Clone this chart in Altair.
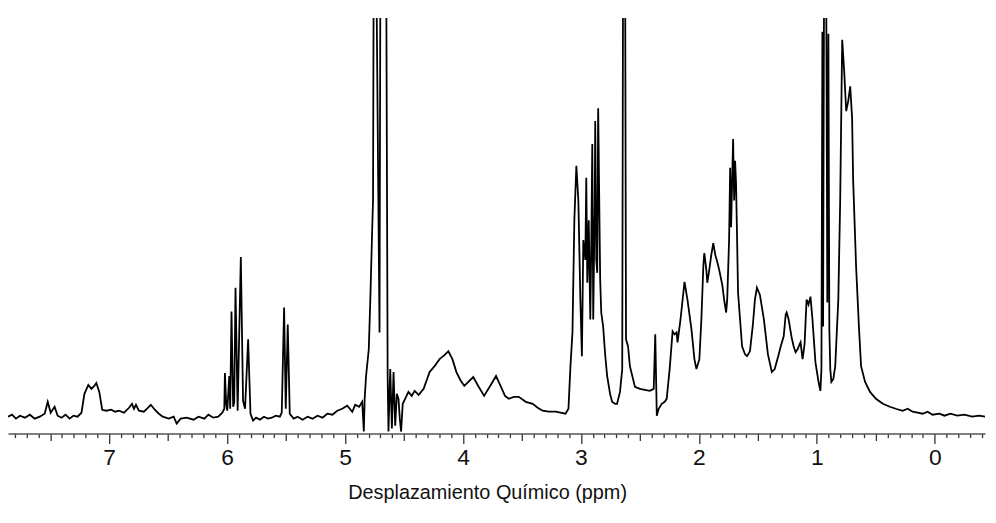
import altair as alt
import pandas as pd

# Chemical shift (ppm) and signal intensity (arbitrary units)
ppm = [
    7.858, 7.824, 7.791, 7.757, 7.715, 7.673, 7.631, 7.589, 7.547, 7.521, 7.496, 7.463,
    7.437, 7.404, 7.370, 7.336, 7.303, 7.269, 7.235, 7.210, 7.177, 7.151, 7.126, 7.109,
    7.084, 7.059, 7.025, 6.983, 6.950, 6.916, 6.874, 6.832, 6.807, 6.790, 6.773, 6.748,
    6.706, 6.672, 6.647, 6.613, 6.579, 6.546, 6.495, 6.453, 6.428, 6.394, 6.344, 6.285,
    6.243, 6.193, 6.159, 6.117, 6.075, 6.041, 6.024, 6.019, 6.008, 5.999, 5.982, 5.974,
    5.963, 5.949, 5.940, 5.929, 5.911, 5.884, 5.865, 5.848, 5.822, 5.802, 5.780, 5.755,
    5.722, 5.688, 5.654, 5.621, 5.587, 5.553, 5.537, 5.517, 5.503, 5.486, 5.469, 5.436,
    5.402, 5.360, 5.318, 5.276, 5.234, 5.192, 5.150, 5.108, 5.066, 5.024, 4.982, 4.939,
    4.914, 4.881, 4.855, 4.841, 4.834, 4.822, 4.799, 4.786, 4.771, 4.763, 4.752, 4.708,
    4.696, 4.658, 4.639, 4.632, 4.617, 4.603, 4.589, 4.575, 4.561, 4.547, 4.536, 4.525,
    4.511, 4.491, 4.463, 4.435, 4.410, 4.376, 4.334, 4.283, 4.241, 4.199, 4.157, 4.124,
    4.090, 4.056, 4.023, 3.989, 3.955, 3.913, 3.871, 3.821, 3.770, 3.720, 3.678, 3.644,
    3.611, 3.569, 3.527, 3.468, 3.409, 3.367, 3.325, 3.274, 3.215, 3.173, 3.131, 3.106,
    3.089, 3.072, 3.056, 3.039, 3.022, 3.005, 2.992, 2.980, 2.963, 2.955, 2.946, 2.934,
    2.921, 2.913, 2.904, 2.896, 2.883, 2.879, 2.870, 2.862, 2.854, 2.837, 2.828, 2.812,
    2.795, 2.778, 2.753, 2.736, 2.711, 2.694, 2.669, 2.650, 2.639, 2.630, 2.618, 2.601,
    2.585, 2.542, 2.500, 2.458, 2.416, 2.383, 2.370, 2.357, 2.341, 2.315, 2.290, 2.273,
    2.248, 2.223, 2.206, 2.189, 2.181, 2.156, 2.122, 2.097, 2.063, 2.038, 2.021, 1.996,
    1.979, 1.962, 1.954, 1.937, 1.929, 1.912, 1.895, 1.878, 1.861, 1.844, 1.828, 1.802,
    1.786, 1.769, 1.760, 1.752, 1.744, 1.735, 1.727, 1.718, 1.710, 1.701, 1.693, 1.685,
    1.676, 1.668, 1.651, 1.634, 1.609, 1.592, 1.567, 1.542, 1.525, 1.508, 1.483, 1.449,
    1.415, 1.382, 1.357, 1.323, 1.306, 1.281, 1.264, 1.256, 1.239, 1.214, 1.197, 1.180,
    1.163, 1.146, 1.138, 1.121, 1.104, 1.087, 1.071, 1.054, 1.037, 1.012, 0.987, 0.970,
    0.961, 0.953, 0.947, 0.940, 0.928, 0.919, 0.911, 0.902, 0.894, 0.886, 0.877, 0.860,
    0.844, 0.818, 0.802, 0.785, 0.768, 0.751, 0.734, 0.717, 0.701, 0.692, 0.667, 0.642,
    0.625, 0.591, 0.549, 0.499, 0.440, 0.381, 0.331, 0.272, 0.230, 0.188, 0.146, 0.103,
    0.061, 0.019, -0.040, -0.082, -0.132, -0.191, -0.250, -0.317, -0.376, -0.426,
]
intensity = [
    17, 19, 15, 18, 16, 19, 15, 17, 20, 32, 21, 27,
    18, 16, 19, 15, 18, 17, 21, 40, 49, 45, 48, 51,
    42, 24, 23, 24, 22, 23, 21, 26, 30, 25, 29, 23,
    22, 26, 29, 24, 20, 17, 15, 17, 10, 15, 16, 14,
    17, 15, 19, 16, 17, 21, 25, 61, 30, 23, 58, 25,
    123, 27, 31, 147, 23, 178, 33, 25, 95, 20, 13, 16,
    14, 17, 15, 16, 18, 17, 21, 127, 25, 110, 20, 15,
    17, 14, 17, 15, 18, 16, 20, 19, 23, 25, 28, 22,
    29, 27, 32, 2, 35, 58, 85, 135, 202, 235, 700, 102,
    700, 700, 58, 2, 65, 5, 62, 8, 40, 35, 15, 2,
    30, 35, 42, 38, 43, 39, 45, 62, 68, 75, 79, 83,
    75, 62, 54, 48, 52, 57, 48, 38, 48, 58, 47, 38,
    35, 37, 37, 32, 30, 26, 23, 22, 22, 21, 20, 25,
    68, 102, 215, 270, 235, 135, 78, 195, 175, 258, 152, 215,
    115, 185, 292, 115, 235, 315, 175, 162, 328, 155, 122, 108,
    80, 58, 40, 32, 30, 30, 42, 65, 700, 700, 95, 88,
    68, 47, 45, 44, 43, 45, 100, 18, 25, 30, 32, 35,
    65, 103, 100, 102, 92, 115, 153, 135, 105, 75, 65, 75,
    115, 170, 182, 165, 152, 165, 180, 192, 180, 173, 165, 150,
    135, 122, 135, 165, 195, 268, 208, 255, 297, 235, 275, 252,
    195, 142, 115, 88, 80, 78, 83, 110, 135, 147, 140, 115,
    80, 62, 65, 80, 88, 98, 120, 122, 115, 97, 88, 82,
    85, 90, 92, 75, 90, 135, 130, 138, 115, 72, 53, 43,
    65, 405, 108, 405, 700, 405, 132, 403, 105, 65, 52, 55,
    68, 135, 235, 397, 365, 325, 335, 350, 318, 255, 168, 105,
    68, 52, 42, 35, 30, 27, 25, 23, 25, 22, 21, 20,
    22, 19, 20, 18, 20, 18, 19, 17, 18, 17,
]

# Axis ticks: labelled integers, half-ppm marks and tenth-ppm minor marks
major_ticks = [7, 6, 5, 4, 3, 2, 1, 0]
half_ticks = [7.5, 6.5, 5.5, 4.5, 3.5, 2.5, 1.5, 0.5]
tick_values = [round(7.8 - 0.1 * i, 1) for i in range(83)]

df = pd.DataFrame({"ppm": ppm, "intensity": intensity})

is_major = "abs(datum.value - round(datum.value)) < 0.001"
is_half = "abs(datum.value * 2 - round(datum.value * 2)) < 0.001"

x_axis = alt.Axis(
    values=tick_values,
    tickSize={"condition": [{"test": is_major, "value": 10}, {"test": is_half, "value": 7}], "value": 4},
    tickColor="#333333",
    tickWidth=1.3,
    domainColor="#555555",
    domainWidth=1.6,
    labelExpr=f"({is_major}) ? format(round(datum.value), 'd') : ''",
    labelFont="Liberation Sans",
    labelFontSize=23,
    labelColor="#111111",
    labelPadding=3,
    labelOverlap=False,
    labelFlush=False,
    grid=False,
    title="Desplazamiento Químico (ppm)",
    titleFont="Liberation Sans",
    titleFontSize=20,
    titleFontWeight="normal",
    titleColor="#111111",
    titlePadding=13,
    titleX=483,
    titleAlign="center",
)

chart = (
    alt.Chart(df)
    .mark_line(color="black", strokeWidth=1.8, clip=True)
    .encode(
        x=alt.X("ppm:Q", scale=alt.Scale(domain=[-0.426, 7.858], reverse=True, nice=False, zero=False), axis=x_axis),
        y=alt.Y("intensity:Q", scale=alt.Scale(domain=[0, 419], nice=False, zero=False), axis=None),
    )
    .properties(width=985, height=419, padding={"top": 8, "left": 0, "right": 3, "bottom": 0})
    .configure_view(stroke=None)
)

chart.save("out.html", embed_options={"renderer": "svg", "actions": False})
